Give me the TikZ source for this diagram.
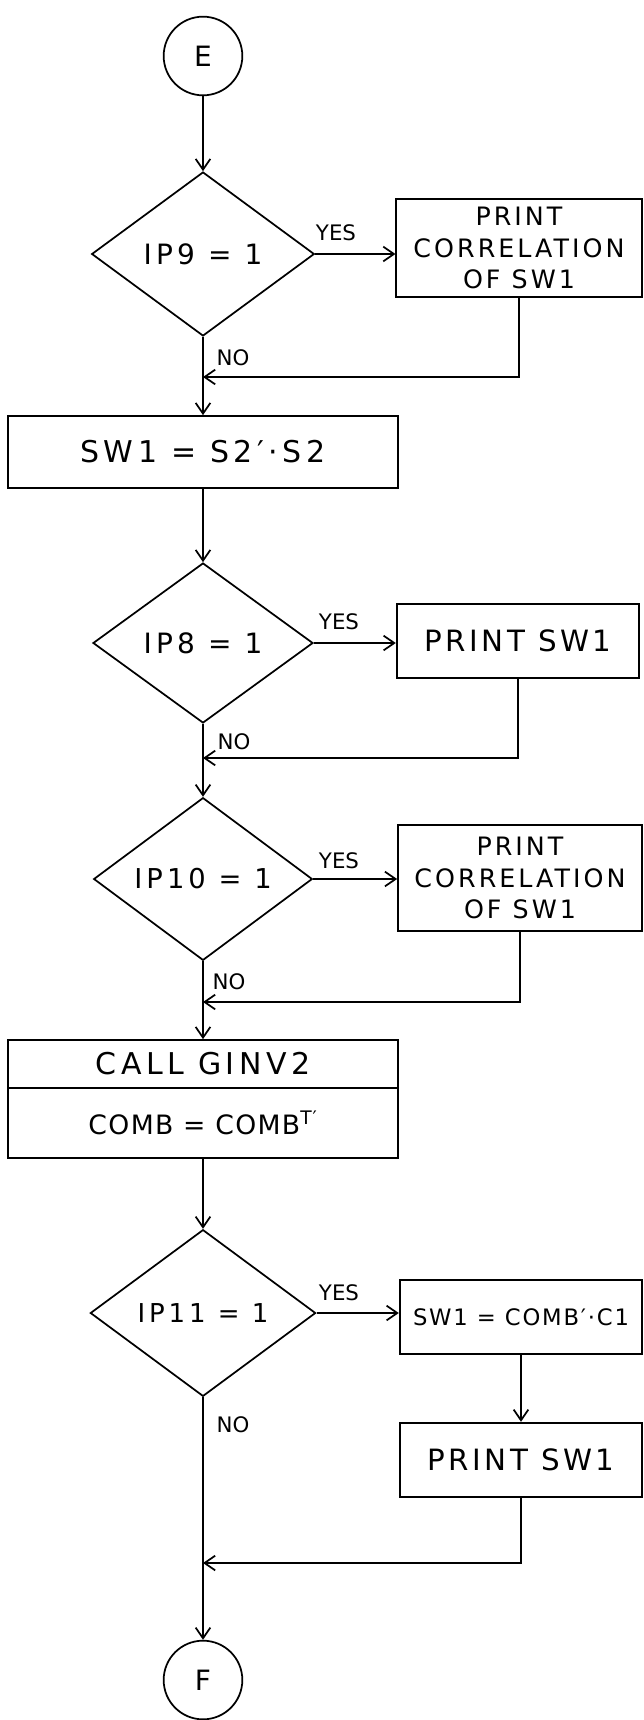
\documentclass[tikz,border=0pt]{standalone}
\usepackage{fontspec}
\setmainfont{DejaVu Sans}
\usetikzlibrary{shapes.geometric,arrows.meta}
\begin{document}
\begin{tikzpicture}[x=0.75pt,y=-0.75pt,
  txt/.style={font=\fontsize{21}{25}\selectfont\addfontfeature{LetterSpace=15}},
  arr/.style={line width=1.3pt, -{Straight Barb[length=8pt,width=11pt]}},
  box/.style={txt, draw, line width=1.3pt, rectangle, inner sep=0pt, align=center},
  dec/.style={txt, draw, line width=1.3pt, diamond, inner sep=0pt},
  term/.style={txt, draw, line width=1.3pt, circle, inner sep=0pt, minimum size=59pt},
  corr/.style={font=\fontsize{19}{23.6}\selectfont\addfontfeature{LetterSpace=12}},
  pr/.style={font=\fontsize{22}{25}\selectfont\addfontfeature{LetterSpace=12}},
  lab/.style={font=\fontsize{16}{18}\selectfont, inner sep=0pt}
]
\useasboundingbox (0,0) rectangle (643,1720);

% main column
\node[term] (E) at (203,56) {E};
\node[dec, minimum width=167pt, minimum height=123pt] (d9) at (203,254) {IP9 = 1};
\node[box, corr, minimum width=184pt, minimum height=73pt] (p9) at (519,248) {PRINT\\CORRELATION\\OF SW1};
\coordinate (j9) at (203,377);

\node[box, minimum width=293pt, minimum height=54pt, font=\fontsize{22.5}{25}\selectfont\addfontfeature{LetterSpace=15}] (s1) at (203,452) {SW1 = S2′·S2};

\node[dec, minimum width=165pt, minimum height=120pt] (d8) at (203,643) {IP8 = 1};
\node[box, pr, minimum width=182pt, minimum height=55pt] (p8) at (518,641) {PRINT SW1};
\coordinate (j8) at (203,758);

\node[dec, minimum width=164pt, minimum height=122pt, font=\fontsize{20.5}{25}\selectfont\addfontfeature{LetterSpace=15}] (d10) at (203,879) {IP10 = 1};
\node[box, corr, minimum width=183pt, minimum height=80pt] (p10) at (520,878) {PRINT\\CORRELATION\\OF SW1};
\coordinate (j10) at (203,1002);

\node[box, minimum width=293pt, minimum height=36pt, font=\fontsize{22.5}{25}\selectfont\addfontfeature{LetterSpace=15}] (c1) at (203,1064) {CALL GINV2};
\node[box, minimum width=293pt, minimum height=52.5pt, font=\fontsize{20}{23}\selectfont\addfontfeature{LetterSpace=5}] (c2) at (203,1123) {COMB = COMB\textsuperscript{T′}};

\node[dec, minimum width=169pt, minimum height=125pt, font=\fontsize{19.5}{25}\selectfont\addfontfeature{LetterSpace=15}] (d11) at (203,1313) {IP11 = 1};
\node[box, minimum width=182pt, minimum height=55pt, font=\fontsize{17}{20}\selectfont\addfontfeature{LetterSpace=8}] (q1) at (521,1317) {SW1 = COMB′·C1};
\node[box, pr, minimum width=182pt, minimum height=56pt] (q2) at (521,1460) {PRINT SW1};
\coordinate (j11) at (203,1563);

\node[term] (F) at (203,1680) {F};

% connectors
\draw[arr] (E) -- (d9);
\draw[arr] (d9.east) -- (d9.east -| p9.west);
\draw[arr] (p9.south) |- (j9);
\draw[arr] (d9.south) -- (s1.north);

\draw[arr] (s1.south) -- (d8.north);
\draw[arr] (d8.east) -- (d8.east -| p8.west);
\draw[arr] (p8.south) |- (j8);
\draw[arr] (d8.south) -- (d10.north);

\draw[arr] (d10.east) -- (d10.east -| p10.west);
\draw[arr] (p10.south) |- (j10);
\draw[arr] (d10.south) -- (c1.north);

\draw[arr] (c2.south) -- (d11.north);
\draw[arr] (d11.east) -- (d11.east -| q1.west);
\draw[arr] (q1.south) -- (q2.north);
\draw[arr] (q2.south) |- (j11);
\draw[arr] (d11.south) -- (F.north);

% labels
\node[lab] (y9) at (336,233) {YES};
\node[lab] (n9) at (233,358) {NO};
\node[lab] (y8) at (339,622) {YES};
\node[lab] (n8) at (234,742) {NO};
\node[lab] (y10) at (339,861) {YES};
\node[lab] (n10) at (229,982) {NO};
\node[lab] (y11) at (339,1293) {YES};
\node[lab] (n11) at (233,1425) {NO};
\end{tikzpicture}
\end{document}
